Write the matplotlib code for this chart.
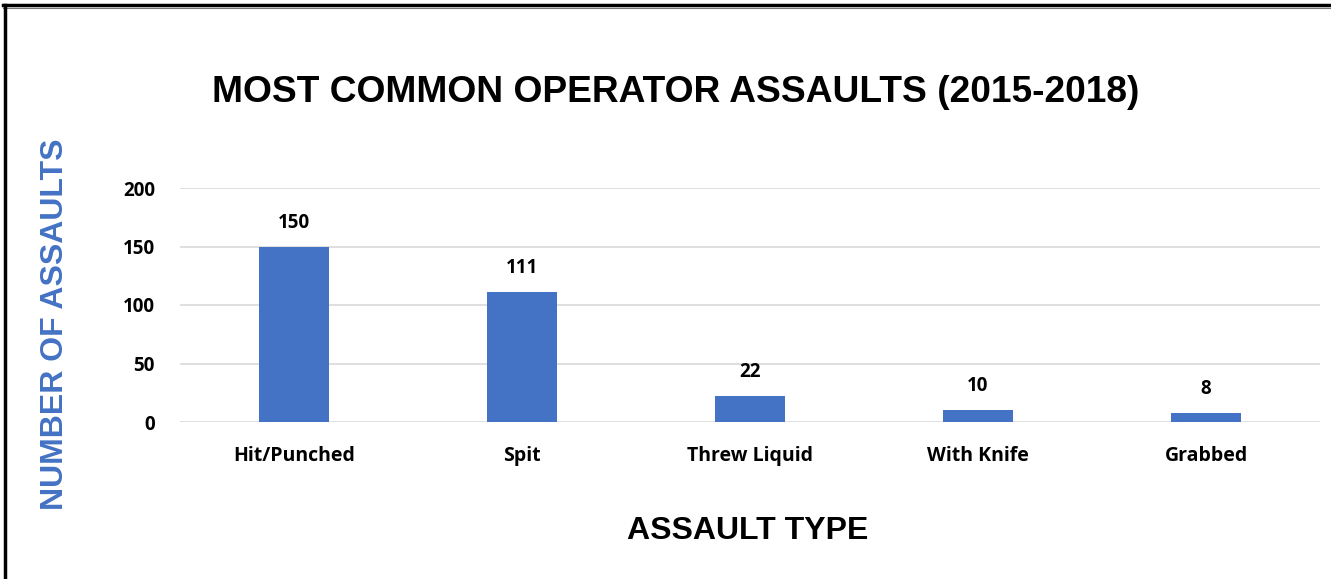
import matplotlib.pyplot as plt
from matplotlib.lines import Line2D

# chart data
categories = ["Hit/Punched", "Spit", "Threw Liquid", "With Knife", "Grabbed"]
assaults = [150, 111, 22, 10, 8]
yticks = [0, 50, 100, 150, 200]

bar_color = "#4472C4"
label_font = ["Open Sans", "DejaVu Sans"]

fig = plt.figure(figsize=(13.31, 5.79), dpi=100)
ax = fig.add_axes([180 / 1331, 1 - 422 / 579, 1140 / 1331, 234 / 579])

pos = list(range(len(categories)))
bars = ax.bar(pos, assaults, width=0.31, color=bar_color, zorder=3)

ax.set_xlim(-0.5, len(categories) - 0.5)
ax.set_ylim(0, 200)
ax.set_yticks(yticks)
ax.set_xticks(pos)
ax.set_xticklabels(categories, fontsize=14, fontweight="bold", family=label_font)
ax.set_yticklabels([str(t) for t in yticks], fontsize=13.5, fontweight="bold", family=label_font)
ax.tick_params(axis="both", length=0)
ax.tick_params(axis="x", pad=17)
ax.tick_params(axis="y", pad=18)
ax.grid(axis="y", color="#d9d9d9", linewidth=1.2, zorder=0)
for side in ["top", "right", "left", "bottom"]:
    ax.spines[side].set_visible(False)

# value labels above the bars
for b, v in zip(bars, assaults):
    ax.annotate(str(v), (b.get_x() + b.get_width() / 2, v), xytext=(0, 10),
                textcoords="offset points", ha="center", va="bottom",
                fontsize=13.5, fontweight="bold", family=label_font)

fig.text(676 / 1331, 1 - 93 / 579, "MOST COMMON OPERATOR ASSAULTS (2015-2018)",
         ha="center", va="center", fontsize=26.7, fontweight="bold",
         family="Liberation Sans")
fig.text(748 / 1331, 1 - 531 / 579, "ASSAULT TYPE", ha="center", va="center",
         fontsize=23, fontweight="bold", family="Liberation Sans")
fig.text(55 / 1331, 1 - 324 / 579, "NUMBER OF ASSAULTS", ha="center", va="center",
         rotation=90, fontsize=23, fontweight="bold", color=bar_color,
         family="Liberation Sans")

# frame lines at the top and left edge
fig.add_artist(Line2D([3 / 1331, 1], [1 - 5 / 579, 1 - 5 / 579], color="black",
                      linewidth=2.5, transform=fig.transFigure))
fig.add_artist(Line2D([3 / 1331, 1], [1 - 7.5 / 579, 1 - 7.5 / 579], color="#777777",
                      linewidth=0.8, transform=fig.transFigure))
fig.add_artist(Line2D([5 / 1331, 5 / 1331], [0, 1 - 5 / 579], color="black",
                      linewidth=2.5, transform=fig.transFigure))

fig.savefig("out.png", dpi=100)
